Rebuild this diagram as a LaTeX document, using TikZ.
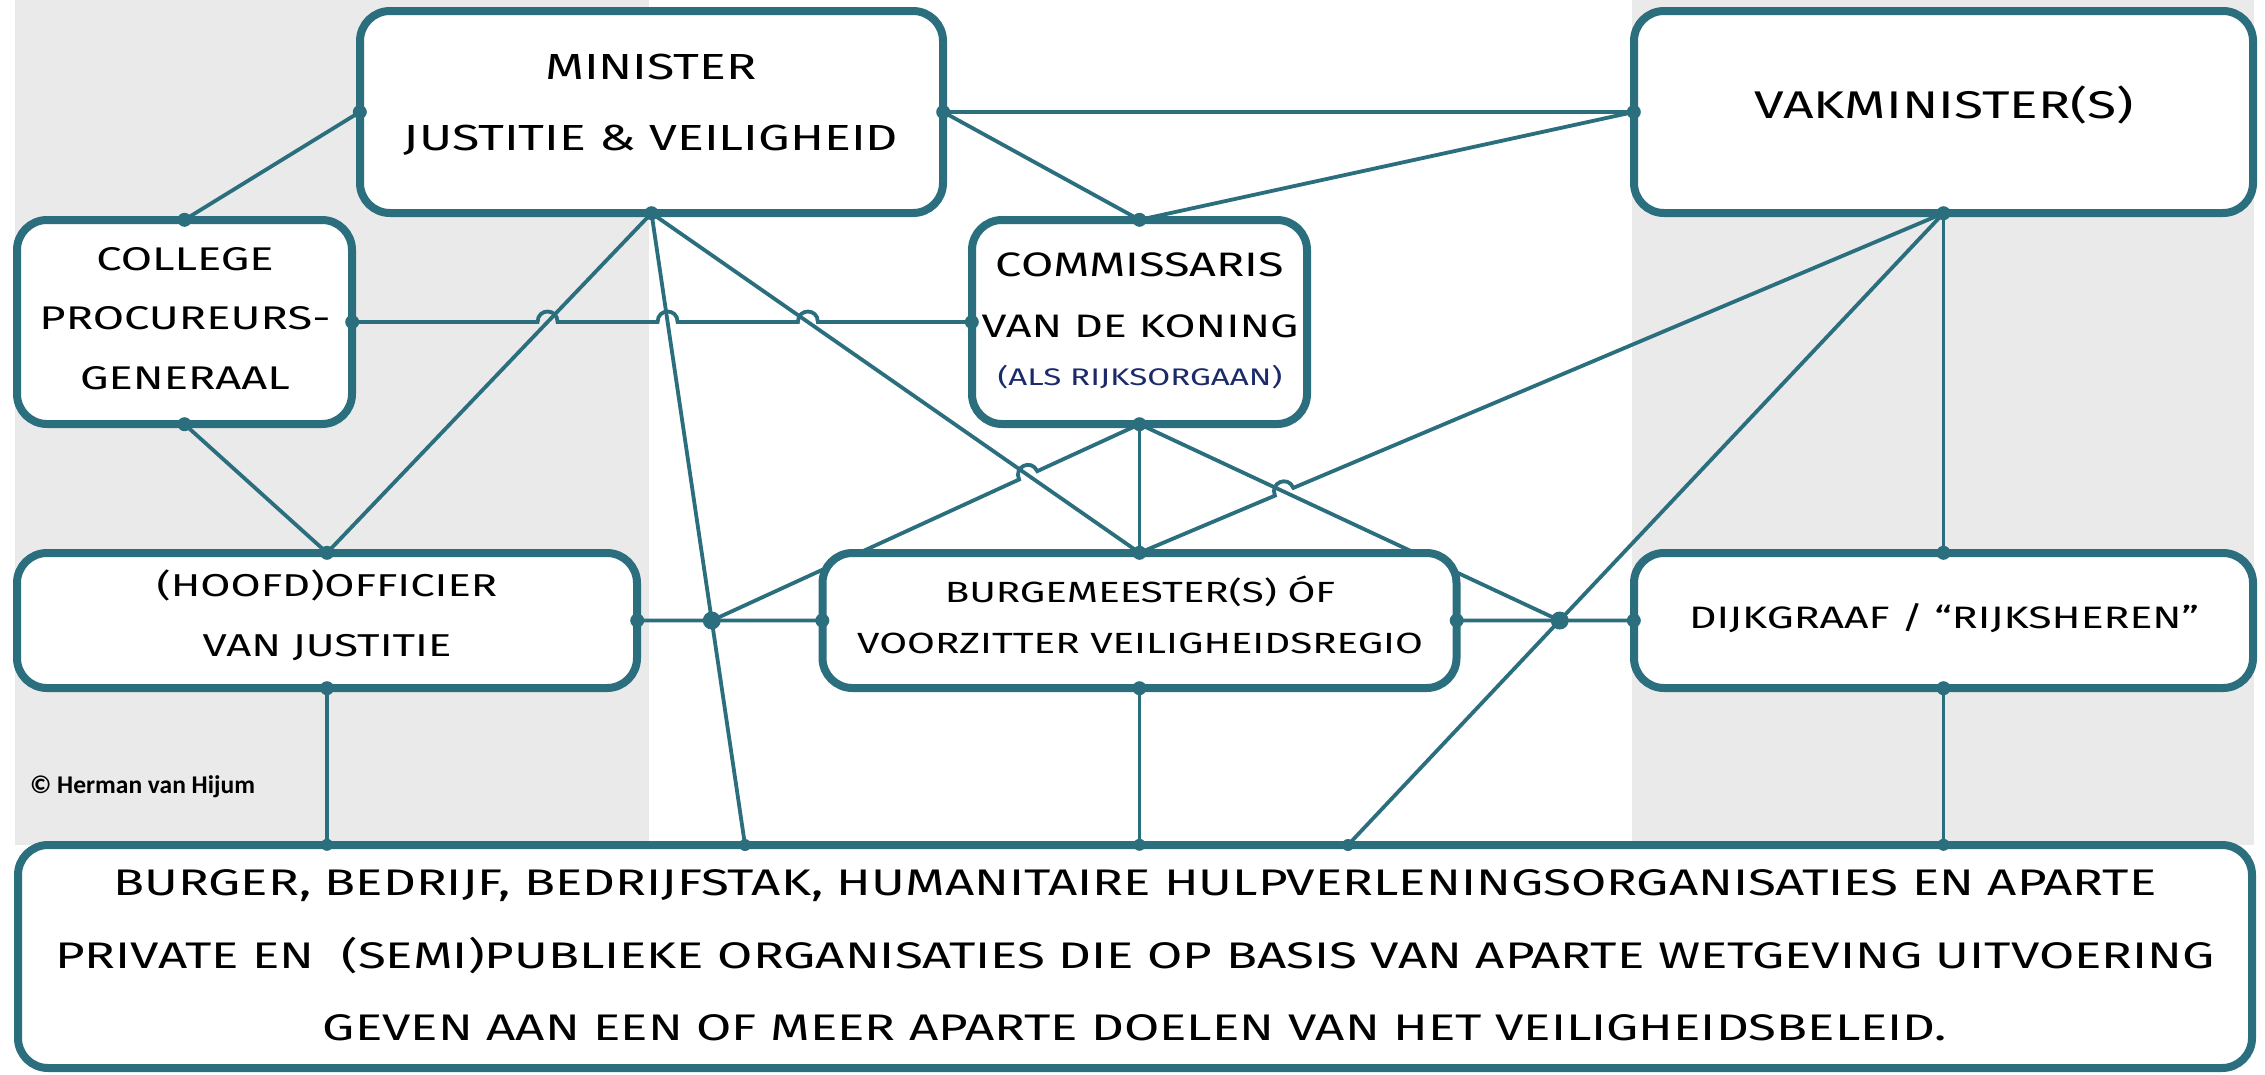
\documentclass[tikz,border=0pt]{standalone}
\usepackage{fontspec}
\setmainfont{Fira Sans}
\newfontfamily\hand[FakeStretch=1.38]{Fira Sans}
\newfontfamily\copyf{Carlito}
\usetikzlibrary{calc}
\definecolor{lineC}{HTML}{2B6E7E}
\definecolor{panelC}{HTML}{EAEAEA}
\definecolor{navyC}{HTML}{1B2A6B}
\newcommand{\fs}[2]{\fontsize{#1}{#2}\selectfont}
\tikzset{
  box/.style={draw=lineC, line width=8pt, rounded corners=30pt, fill=white, inner sep=0pt},
  conn/.style={draw=lineC, line width=3.8pt},
  thinconn/.style={draw=lineC, line width=3.2pt},
  txt/.style={align=center, inner sep=0pt, text=black},
  enddot/.style={fill=lineC},
}
% bump on line #1--#2 at crossing #3
\newcommand{\bumpA}[3]{($(#3)!10pt!(#1)$) .. controls ($(#3)!10pt!(#1)!14pt!90:(#3)$) and ($(#3)!10pt!(#2)!14pt!-90:(#3)$) .. ($(#3)!10pt!(#2)$)}
\begin{document}
\begin{tikzpicture}[x=1pt,y=-1pt]
\useasboundingbox (0,0) rectangle (2265,1074);
% background panels
\fill[panelC] (15,0) rectangle (649,845);
\fill[panelC] (1632,0) rectangle (2254,845);

% invisible geometry first, so connectors can be drawn below the boxes
\path (651.5,112) coordinate (minC) (1943.5,112) coordinate (vakC)
      (184.5,322) coordinate (colC) (1139.5,322) coordinate (comC)
      (327,620.5) coordinate (offC) (1139.5,620.5) coordinate (burC)
      (1943.5,620.5) coordinate (dijC) (1135,956.5) coordinate (botC0);
\node[minimum width=583pt, minimum height=202pt, inner sep=0pt] (minG) at (minC) {};
\node[minimum width=619pt, minimum height=202pt, inner sep=0pt] (vakG) at (vakC) {};
\node[minimum width=335pt, minimum height=204pt, inner sep=0pt] (colG) at (colC) {};
\node[minimum width=335pt, minimum height=204pt, inner sep=0pt] (comG) at (comC) {};
\node[minimum width=620pt, minimum height=135pt, inner sep=0pt] (offG) at (offC) {};
\node[minimum width=634pt, minimum height=135pt, inner sep=0pt] (burG) at (burC) {};
\node[minimum width=619pt, minimum height=135pt, inner sep=0pt] (dijG) at (dijC) {};
\node[minimum width=2234pt, minimum height=223pt, inner sep=0pt] (botG) at (botC0) {};

% attachment coordinates
\coordinate (minW) at (minG.west);
\coordinate (minE) at (minG.east);
\coordinate (minS) at (minG.south);
\coordinate (vakW) at (vakG.west);
\coordinate (vakS) at (vakG.south);
\coordinate (colN) at (colG.north);
\coordinate (colE) at (colG.east);
\coordinate (colS) at (colG.south);
\coordinate (comN) at (comG.north);
\coordinate (comW) at (comG.west);
\coordinate (comS) at (comG.south);
\coordinate (offN) at (offG.north);
\coordinate (offE) at (offG.east);
\coordinate (offS) at (offG.south);
\coordinate (burN) at (burG.north);
\coordinate (burW) at (burG.west);
\coordinate (burE) at (burG.east);
\coordinate (burS) at (burG.south);
\coordinate (dijN) at (dijG.north);
\coordinate (dijW) at (dijG.west);
\coordinate (dijS) at (dijG.south);
\coordinate (botA) at (offG.south |- botG.north);
\coordinate (botB) at (745,845);
\coordinate (botC) at (burG.south |- botG.north);
\coordinate (botD) at (1348,845);
\coordinate (botE) at (dijG.south |- botG.north);
\coordinate (jL) at (intersection of minS--botB and offE--burW);
\coordinate (jR) at (intersection of vakS--botD and burE--dijW);
% crossing points
\coordinate (x1) at (intersection of colE--comW and minS--offN);
\coordinate (x2) at (intersection of colE--comW and minS--botB);
\coordinate (x3) at (intersection of colE--comW and minS--burN);
\coordinate (x4) at (intersection of jL--comS and minS--burN);
\coordinate (x5) at (intersection of burN--vakS and comS--jR);

% connectors
\draw[conn] (colN) -- (minW);
\draw[conn] (minE) -- (vakW);
\draw[conn] (minE) -- (comN);
\draw[conn] (vakW) -- (comN);
\draw[conn] (colE) -- \bumpA{colE}{comW}{x1} -- \bumpA{colE}{comW}{x2} -- \bumpA{colE}{comW}{x3} -- (comW);
\draw[conn] (colS) -- (offN);
\draw[conn] (minS) -- (offN);
\draw[conn] (minS) -- (botB);
\draw[conn] (minS) -- (burN);
\draw[conn] (jL) -- \bumpA{jL}{comS}{x4} -- (comS);
\draw[conn] (comS) -- (burN);
\draw[conn] (comS) -- (jR);
\draw[conn] (burN) -- \bumpA{burN}{vakS}{x5} -- (vakS);
\draw[conn] (vakS) -- (botD);
\draw[conn] (vakS) -- (dijN);
\draw[conn] (offE) -- (jL) -- (burW);
\draw[conn] (burE) -- (jR) -- (dijW);
\draw[thinconn] (offS) -- (botA);
\draw[thinconn] (burS) -- (botC);
\draw[thinconn] (dijS) -- (botE);

% boxes
\node[box, minimum width=583pt, minimum height=202pt] (min) at (minC) {};
\node[box, minimum width=619pt, minimum height=202pt] (vak) at (vakC) {};
\node[box, minimum width=335pt, minimum height=204pt] (col) at (colC) {};
\node[box, minimum width=335pt, minimum height=204pt] (com) at (comC) {};
\node[box, minimum width=620pt, minimum height=135pt] (off) at (offC) {};
\node[box, minimum width=634pt, minimum height=135pt] (bur) at (burC) {};
\node[box, minimum width=619pt, minimum height=135pt] (dij) at (dijC) {};
\node[box, minimum width=2234pt, minimum height=223pt] (bot) at (botC0) {};

% texts
\node[txt, font=\hand\fs{36.3}{71}] (minT) at (651,104.5) {MINISTER\\JUSTITIE \& VEILIGHEID};
\node[txt, font=\hand\fs{38.6}{44}] (vakT) at (1944,105) {VAKMINISTER(S)};
\node[txt, font=\hand\fs{32.8}{59.5}] (colT) at (185,318.5) {COLLEGE\\PROCUREURS-\\GENERAAL};
\node[txt, font=\hand\fs{33.9}{40}] (comT1) at (1140,265) {COMMISSARIS};
\node[txt, font=\hand\fs{32.5}{40}] (comT2) at (1140,326) {VAN DE KONING};
\node[txt, font=\hand\fs{24}{30}, text=navyC] (comT3) at (1140,377) {(ALS RIJKSORGAAN)};
\node[txt, font=\hand\fs{31.6}{60}] (offT) at (327,615) {(HOOFD)OFFICIER\\VAN JUSTITIE};
\node[txt, font=\hand\fs{29.2}{51}] (burT) at (1140,614.5) {BURGEMEESTER(S) ÓF\\VOORZITTER VEILIGHEIDSREGIO};
\node[txt, font=\hand\fs{31}{40}] (dijT) at (1944,618) {DIJKGRAAF / “RIJKSHEREN”};
\node[txt, font=\hand\fs{37}{72.5}] (botT) at (1135,955.5) {BURGER, BEDRIJF, BEDRIJFSTAK, HUMANITAIRE HULPVERLENINGSORGANISATIES EN APARTE\\PRIVATE EN\ \ (SEMI)PUBLIEKE ORGANISATIES DIE OP BASIS VAN APARTE WETGEVING UITVOERING\\GEVEN AAN EEN OF MEER APARTE DOELEN VAN HET VEILIGHEIDSBELEID.};
\node[anchor=west, inner sep=0pt, font=\copyf\bfseries\fs{25.5}{30}] (copy) at (30,787) {© Herman van Hijum};

% dots
\foreach \p in {minW,minE,minS,vakW,vakS,colN,colE,colS,comN,comW,comS,offN,offE,offS,burN,burW,burE,burS,dijN,dijW,dijS}
  \fill[enddot] (\p) circle (7pt);
\foreach \p in {botA,botB,botC,botD,botE}
  \fill[enddot] (\p) circle (6pt);
\fill[enddot] (jL) circle (9pt);
\fill[enddot] (jR) circle (9pt);
\end{tikzpicture}
\end{document}
